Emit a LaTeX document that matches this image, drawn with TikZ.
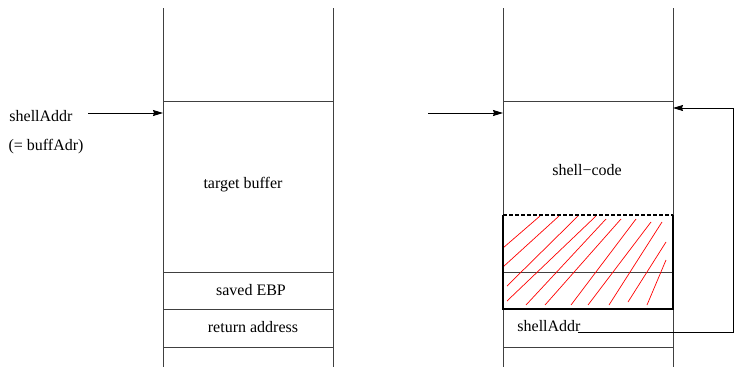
\documentclass[tikz,border=0pt]{standalone}
\usepackage{fontspec}
\setmainfont{Liberation Serif}
\usetikzlibrary{arrows.meta}

\begin{document}
\begin{tikzpicture}[x=1pt,y=-1pt,
  lbl/.style={font=\fontsize{16}{18}\selectfont,inner sep=0pt},
  wall/.style={draw=black!75,line width=0.9pt},
  ptr/.style={line width=0.9pt,-{Stealth[length=10pt,width=6pt,inset=1pt]}},
  hatch/.style={red,line width=0.7pt}]
\useasboundingbox (0,0) rectangle (734,367);

% left stack (before)
\draw[wall] (163,8) -- (163,367);
\draw[wall] (333,8) -- (333,367);
\foreach \y in {101,272,309,347}
  \draw[wall] (163,\y) -- (333,\y);
\node[lbl] (tbuf) at (243,185) {target buffer};
\node[lbl] (sebp) at (251,290) {saved EBP};
\node[lbl] (raddr) at (253,327) {return address};

\node[lbl] (lname) at (41,116) {shellAddr};
\node[lbl] (lalias) at (46,147) {(= buffAdr)};
\coordinate (lsrc) at (88,113);
\coordinate (lin) at (163,113);
\draw[ptr] (lsrc) -- (lin);

% right stack (after)
\draw[wall] (503,8) -- (503,367);
\draw[wall] (673,8) -- (673,367);
\foreach \y in {101,272,347}
  \draw[wall] (503,\y) -- (673,\y);
\node[lbl] (scode) at (587,170) {shell\char"2212 code};

% overwritten area
\foreach \a/\b/\c/\d in {503/248/540/216, 503/267/559/216, 507/286/578/216,
    507/301/596/216, 526/305/606/219, 545/305/621/219, 571/305/636/219,
    588/305/651/222, 609/305/662/222, 628/302/666/242, 647/305/666/260}
  \draw[hatch] (\a,\b) -- (\c,\d);
\draw[line width=1.3pt] (503,215) -- (503,309) -- (673,309) -- (673,215);
\draw[line width=1.3pt,dash pattern=on 4pt off 2pt] (503,215) -- (673,215);

\node[lbl] (rname) at (549,326) {shellAddr};
\coordinate (rsrc) at (428,113);
\coordinate (rin) at (503,113);
\draw[ptr] (rsrc) -- (rin);

\coordinate (ret) at (578,332);
\coordinate (rtop) at (673,108);
\draw[ptr] (ret) -- (733,332) |- (rtop);
\end{tikzpicture}
\end{document}
